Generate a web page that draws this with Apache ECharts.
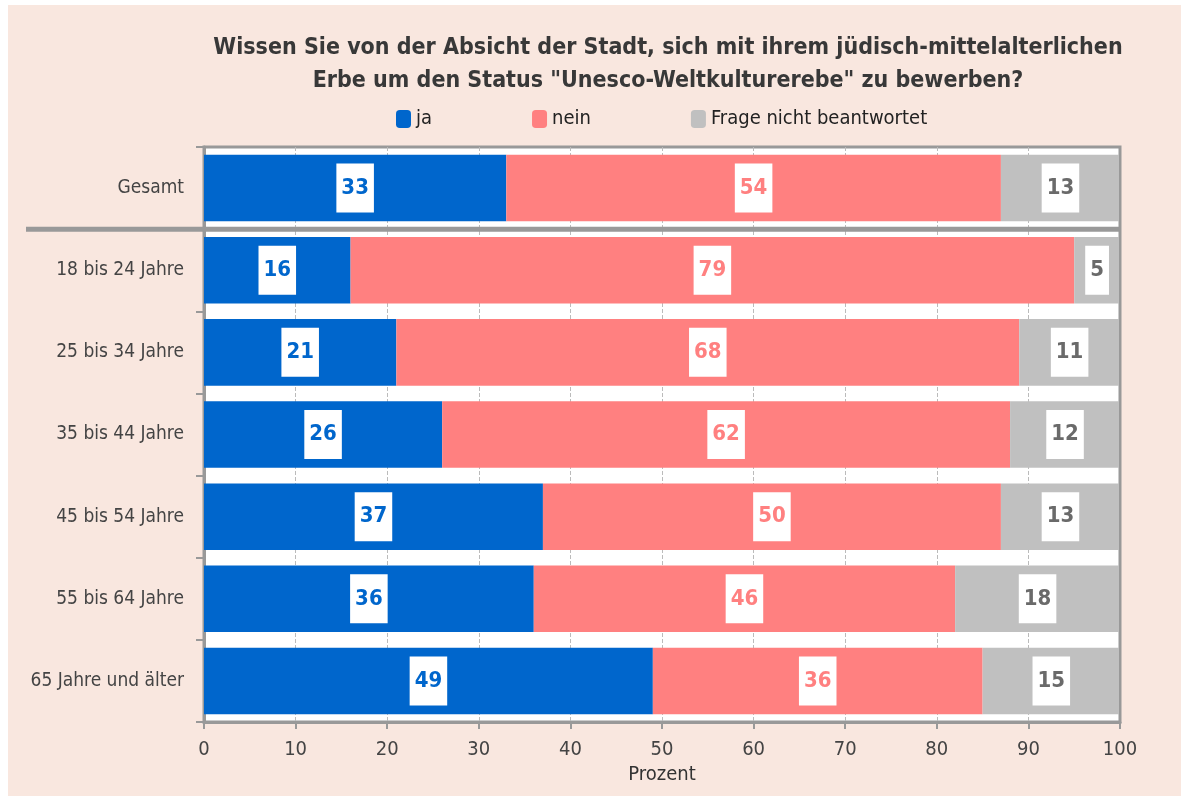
<!DOCTYPE html>
<html>
<head>
<meta charset="utf-8">
<title>Unesco-Weltkulturerebe</title>
<script src="https://cdn.jsdelivr.net/npm/echarts@6/dist/echarts.min.js"></script>
<style>
  html, body { margin: 0; padding: 0; background: #fff; }
  #chartA { position: absolute; left: 8px; top: 5px; width: 1173px; height: 791px; }
</style>
</head>
<body>
<div id="chartA"></div>
<script>
var categories = ['Gesamt', '18 bis 24 Jahre', '25 bis 34 Jahre', '35 bis 44 Jahre',
                  '45 bis 54 Jahre', '55 bis 64 Jahre', '65 Jahre und älter'];
var jaValues = [33, 16, 21, 26, 37, 36, 49];
var neinValues = [54, 79, 68, 62, 50, 46, 36];
var keineValues = [13, 5, 11, 12, 13, 18, 15];
var seriesNames = ['ja', 'nein', 'Frage nicht beantwortet'];
var xTicks = [0, 100, 10];  // min, max, interval

var font = "'Liberation Sans Narrow', 'DejaVu Sans Condensed', 'Noto Sans', sans-serif";
var colors = ['#0066cc', '#ff8080', '#c0c0c0'],
    labelColors = ['#0066cc', '#ff8080', '#6a6a6a'];

function makeSeries(i, values){
  return {
    name: seriesNames[i],
    type: 'bar',
    stack: 'total',
    barCategoryGap: '19%',
    data: values,
    itemStyle: { color: colors[i] },
    label: {
      show: true,
      position: 'inside',
      color: labelColors[i],
      fontFamily: font,
      fontSize: 22,
      fontWeight: 'bold',
      backgroundColor: '#fff',
      padding: [13, 5, 12, 5],
      lineHeight: 24
    }
  };
}

var myChartA = echarts.init(document.getElementById('chartA'));
var optionchartA = {
  backgroundColor: '#f9e7df',
  textStyle: { fontFamily: font },
  title: {
    text: 'Wissen Sie von der Absicht der Stadt, sich mit ihrem jüdisch-mittelalterlichen\nErbe um den Status "Unesco-Weltkulturerebe" zu bewerben?',
    left: 655,
    top: 22,
    textAlign: 'center',
    textStyle: {
      fontFamily: font,
      fontSize: 23,
      fontWeight: 'bold',
      color: '#383838',
      lineHeight: 33
    }
  },
  legend: {
    data: seriesNames,
    left: 383,
    top: 99,
    itemWidth: 15,
    itemHeight: 18,
    itemGap: 100,
    icon: 'roundRect',
    textStyle: { fontFamily: font, fontSize: 20, color: '#222' }
  },
  grid: {
    left: 196,
    right: 61,
    top: 142,
    bottom: 74,
    show: true,
    backgroundColor: '#fff',
    borderColor: '#999',
    borderWidth: 3
  },
  xAxis: {
    type: 'value',
    min: xTicks[0],
    max: xTicks[1],
    interval: xTicks[2],
    name: 'Prozent',
    nameLocation: 'middle',
    nameGap: 36,
    nameTextStyle: { fontFamily: font, fontSize: 20, color: '#333' },
    axisLine: { show: true, lineStyle: { color: '#999', width: 3 } },
    axisTick: { show: true, length: 7, lineStyle: { color: '#999', width: 2 } },
    axisLabel: { fontFamily: font, fontSize: 20, color: '#444', margin: 18 },
    splitLine: { show: true, lineStyle: { color: '#bbb', width: 1, type: [4, 2] } }
  },
  yAxis: {
    type: 'category',
    data: categories,
    inverse: true,
    axisLine: { show: true, lineStyle: { color: '#999', width: 3 } },
    axisTick: { show: true, length: 8, lineStyle: { color: '#999', width: 2 } },
    axisLabel: { fontFamily: font, fontSize: 19, color: '#444', margin: 20 }
  },
  series: [
    makeSeries(0, jaValues),
    makeSeries(1, neinValues),
    makeSeries(2, keineValues)
  ],
  animation: false
};
myChartA.setOption(optionchartA);

// thick separator between "Gesamt" and the age groups, plus the right frame
function drawSeparator(){
  var y0 = myChartA.convertToPixel({yAxisIndex: 0}, 0),
      y1 = myChartA.convertToPixel({yAxisIndex: 0}, 1),
      yl = myChartA.convertToPixel({yAxisIndex: 0}, categories.length - 1),
      xr = myChartA.convertToPixel({xAxisIndex: 0}, xTicks[1]);
  var y = (y0 + y1) / 2,
      half = (y1 - y0) / 2;
  myChartA.setOption({
    graphic: [{
      type: 'line',
      shape: { x1: 18, y1: y, x2: xr, y2: y },
      style: { stroke: '#999', lineWidth: 5 },
      z: 100
    }, {
      type: 'line',
      shape: { x1: xr, y1: y0 - half, x2: xr, y2: yl + half },
      style: { stroke: '#999', lineWidth: 2 },
      z: 100
    }]
  });
}
drawSeparator();
</script>
</body>
</html>
